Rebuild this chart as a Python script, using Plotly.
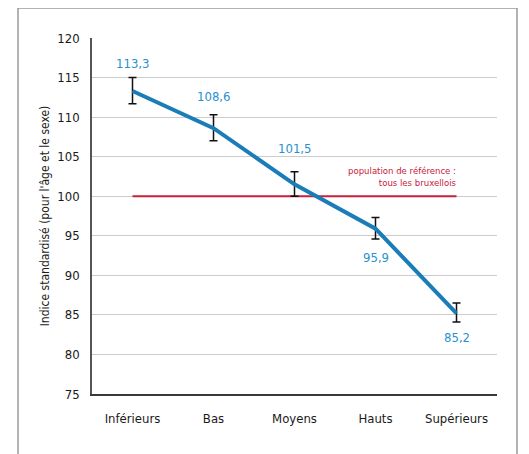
import plotly.graph_objects as go

categories = ["Inférieurs", "Bas", "Moyens", "Hauts", "Supérieurs"]
values = [113.3, 108.6, 101.5, 95.9, 85.2]
err_plus = [1.7, 1.7, 1.6, 1.4, 1.3]
err_minus = [1.6, 1.6, 1.5, 1.3, 1.1]
value_labels = ["113,3", "108,6", "101,5", "95,9", "85,2"]
label_shift = [28, 32, 36, -29, -24]
reference_value = 100
y_ticks = [75, 80, 85, 90, 95, 100, 105, 110, 115, 120]

FONT = "Liberation Sans Narrow, DejaVu Sans Condensed, Arial Narrow, sans-serif"
BLUE = "#1a7db8"
LABEL_BLUE = "#2a90cf"
RED = "#c8203a"

fig = go.Figure()

# reference line (drawn first, beneath the main line)
fig.add_trace(go.Scatter(
    x=[categories[0], categories[-1]], y=[reference_value, reference_value],
    mode="lines", line=dict(color=RED, width=2),
    showlegend=False, hoverinfo="skip",
))

fig.add_trace(go.Scatter(
    x=categories, y=values, mode="lines",
    line=dict(color=BLUE, width=4),
    error_y=dict(type="data", array=err_plus, arrayminus=err_minus,
                 color="#111111", thickness=1.5, width=4),
    showlegend=False, hoverinfo="skip",
))

for c, v, t, s in zip(categories, values, value_labels, label_shift):
    fig.add_annotation(x=c, y=v, text=t, showarrow=False, yshift=s,
                       font=dict(family=FONT, size=13, color=LABEL_BLUE))

fig.add_annotation(x=categories[-1], y=reference_value, xref="x", yref="y",
                   text="population de référence :<br>tous les bruxellois",
                   showarrow=False, xanchor="right", yanchor="bottom",
                   align="right", yshift=6, xshift=2,
                   font=dict(family=FONT, size=9.5, color=RED))

# outer frame
fig.add_shape(type="rect", xref="paper", yref="paper",
              x0=-74/405, x1=425/405, y0=-1, y1=1 + 30/356,
              line=dict(color="#9a9a9a", width=1.5), layer="below")

fig.update_layout(
    width=521, height=446,
    margin=dict(l=84, r=32, t=30, b=60),
    paper_bgcolor="white", plot_bgcolor="white",
    font=dict(family=FONT, color="#1a1a1a"),
    xaxis=dict(type="category", categoryorder="array", categoryarray=categories,
               showgrid=False, showline=True,
               linecolor="#3a3a3a", linewidth=1.5, ticks="",
               tickfont=dict(family=FONT, size=13, color="#1a1a1a"),
               ticklabelstandoff=12, automargin=False,
               range=[-0.5, 4.5], fixedrange=True),
    yaxis=dict(range=[75, 120], tickvals=y_ticks, showgrid=True,
               gridcolor="#cccccc", gridwidth=1, showline=True,
               linecolor="#555555", linewidth=1.5, ticks="",
               zeroline=False, automargin=False,
               ticklabelstandoff=8,
               tickfont=dict(family=FONT, size=13, color="#1a1a1a"),
               title=dict(text="Indice standardisé (pour l'âge et le sexe)",
                          font=dict(family=FONT, size=12, color="#1a1a1a"),
                          standoff=5),
               fixedrange=True),
)

fig.write_html("out.html")
